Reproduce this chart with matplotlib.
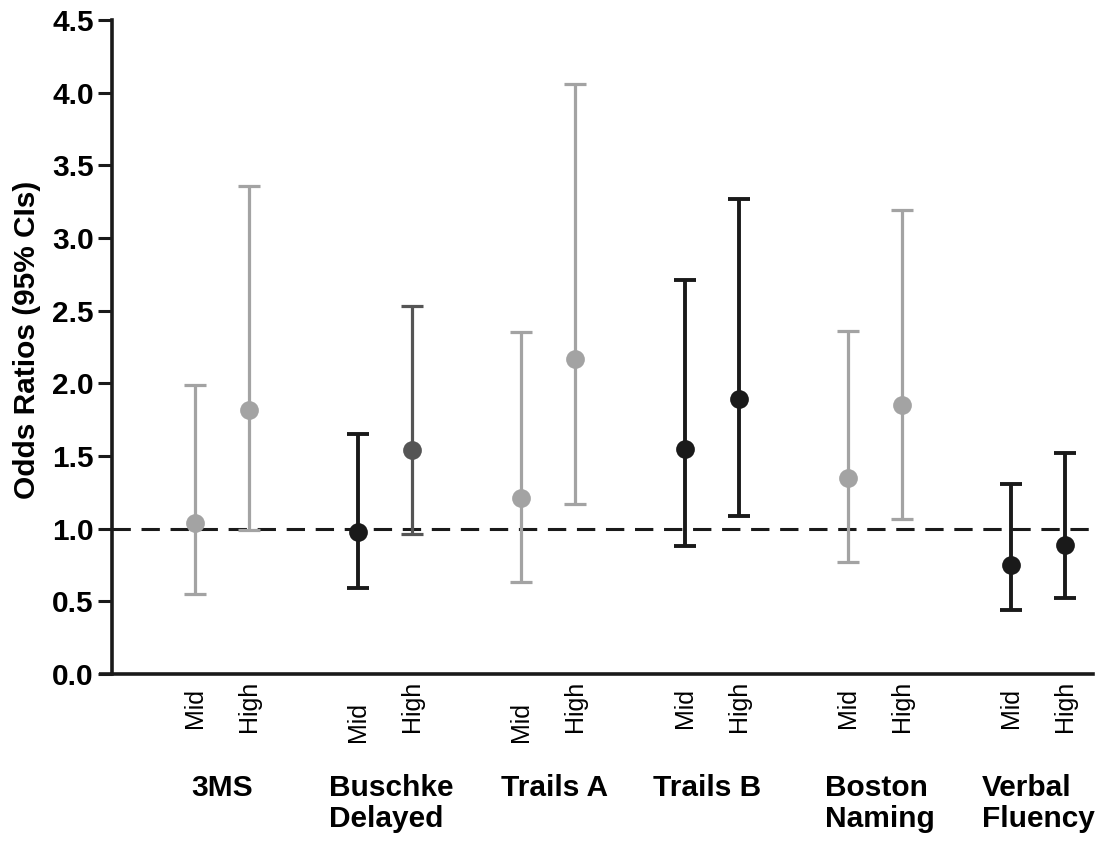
import matplotlib.pyplot as plt
import numpy as np
from matplotlib.transforms import offset_copy

plt.rcParams['font.family'] = ['Liberation Sans', 'DejaVu Sans']

# ----- data -----
tests = ['3MS', 'Buschke\nDelayed', 'Trails A', 'Trails B', 'Boston\nNaming', 'Verbal\nFluency']
levels = ['Mid', 'High']

mid_or = [1.04, 0.98, 1.21, 1.55, 1.35, 0.75]
mid_lo = [0.55, 0.59, 0.63, 0.88, 0.77, 0.44]
mid_hi = [1.99, 1.65, 2.35, 2.71, 2.36, 1.31]

high_or = [1.82, 1.54, 2.17, 1.89, 1.85, 0.89]
high_lo = [0.99, 0.96, 1.17, 1.09, 1.07, 0.52]
high_hi = [3.36, 2.53, 4.06, 3.27, 3.19, 1.52]

# colours per point
GREY = '#a3a3a3'
DARK = '#555555'
BLACK = '#1a1a1a'
mid_col = [GREY, BLACK, GREY, BLACK, GREY, BLACK]
high_col = [GREY, DARK, GREY, BLACK, GREY, BLACK]

# ----- figure -----
fig = plt.figure(figsize=(11.06, 8.44), dpi=100)
ax = fig.add_axes([0.101, 0.2014, 0.887, 0.7749])

x = np.arange(len(tests))
off = 0.33

def draw(xs, ors, los, his, cols):
    for xi, o, lo, hi, c in zip(xs, ors, los, his, cols):
        lw = 2.8 if c == BLACK else 2.3
        ax.errorbar(xi, o, yerr=[[o - lo], [hi - o]], fmt='none',
                    ecolor=c, elinewidth=lw, capsize=8, capthick=lw, zorder=3)
        ax.plot(xi, o, 'o', color=c, markersize=13.5, markeredgewidth=0, zorder=4)

ax.axhline(1.0, color=BLACK, lw=2.2, ls=(0, (6, 3.5)), zorder=2)
draw(x, mid_or, mid_lo, mid_hi, mid_col)
draw(x + off, high_or, high_lo, high_hi, high_col)

ax.set_xlim(-0.51, 5.50)
ax.set_ylim(0, 4.5)
ax.set_yticks(np.arange(0, 4.51, 0.5))
ax.set_yticklabels(['%.1f' % v for v in np.arange(0, 4.51, 0.5)],
                   fontsize=21.5, fontweight='bold')
ax.set_xticks([])
ax.tick_params(axis='y', length=10, width=2.2, pad=3, color=BLACK)

for s in ['top', 'right']:
    ax.spines[s].set_visible(False)
for s in ['left', 'bottom']:
    ax.spines[s].set_linewidth(2.6)
    ax.spines[s].set_color(BLACK)
# bottom line runs a little past the y axis on the left
ax.plot([-0.013, 0], [0, 0], transform=ax.transAxes, color=BLACK, lw=2.6,
        clip_on=False, solid_capstyle='butt')

# y axis title
fig.text(27 / 1106, 1 - 340 / 844, 'Odds Ratios (95% CIs)', rotation=90,
         ha='center', va='center', fontsize=21.5, fontweight='bold')

# level labels under each point
mid_drop = [0, 14, 14, 0, 0, 0]
trans = ax.get_xaxis_transform()
for i in range(len(tests)):
    t = offset_copy(trans, fig=fig, x=0, y=-14 - mid_drop[i], units='dots')
    ax.text(x[i], 0, levels[0], transform=t, rotation=90, ha='center', va='top',
            fontsize=18)
    t = offset_copy(trans, fig=fig, x=0, y=-7, units='dots')
    ax.text(x[i] + off, 0, levels[1], transform=t, rotation=90, ha='center', va='top',
            fontsize=18)

# test names
name_shift = [0, 0.04, 0.04, -0.03, 0.03, 0.0]
for i, name in enumerate(tests):
    t = offset_copy(trans, fig=fig, x=0, y=-100, units='dots')
    ax.text(x[i] + off / 2 + name_shift[i], 0, name, transform=t, ha='center',
            va='top', multialignment='left', fontsize=21.5, fontweight='bold',
            linespacing=1.15)

fig.savefig('out.png', dpi=100)
